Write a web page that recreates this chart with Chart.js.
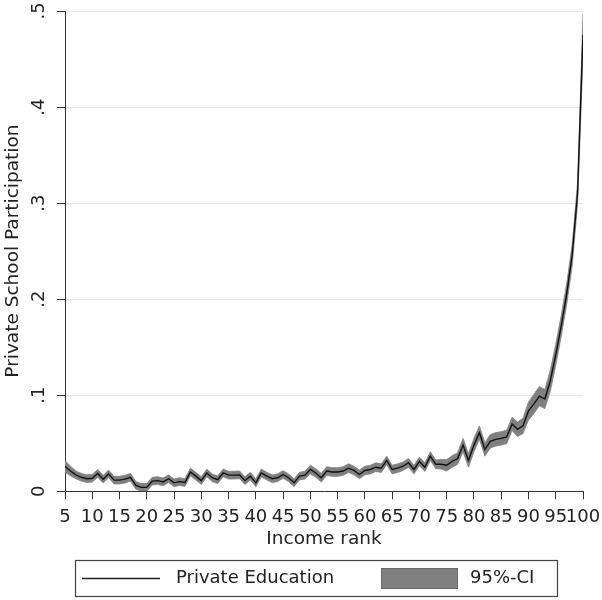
<!DOCTYPE html>
<html>
<head>
<meta charset="utf-8">
<script src="https://cdn.jsdelivr.net/npm/chart.js@4/dist/chart.umd.min.js"></script>
<style>
  html, body { margin: 0; padding: 0; background: #fff; overflow: hidden; }
  #wrap { width: 602px; height: 600px; }
</style>
</head>
<body>
<div id="wrap"><canvas id="chart"></canvas></div>
<script>
// income rank (percentile)
const ranks = [5, 6, 7, 8, 9, 10, 11, 12, 13, 14, 15, 16, 17, 18, 19, 20,
  21, 22, 23, 24, 25, 26, 27, 28, 29, 30, 31, 32, 33, 34, 35, 36, 37, 38, 39, 40,
  41, 42, 43, 44, 45, 46, 47, 48, 49, 50, 51, 52, 53, 54, 55, 56, 57, 58, 59, 60,
  61, 62, 63, 64, 65, 66, 67, 68, 69, 70, 71, 72, 73, 74, 75, 76, 77, 78, 79, 80,
  81, 82, 83, 84, 85, 86, 87, 88, 89, 90, 91, 92, 93, 94, 95, 96, 97, 98, 99, 100];

// private school participation (point estimate)
const share = [0.026, 0.021, 0.017, 0.0145, 0.013, 0.0135, 0.0185, 0.0125, 0.018, 0.0115, 0.0115, 0.0125, 0.0145, 0.006, 0.004, 0.004,
  0.0105, 0.011, 0.0097, 0.013, 0.0087, 0.010, 0.009, 0.020, 0.0157, 0.011, 0.019, 0.014, 0.012, 0.019, 0.0167, 0.0167, 0.017, 0.011, 0.0157, 0.0087,
  0.019, 0.0157, 0.013, 0.014, 0.0174, 0.014, 0.0087, 0.0157, 0.0167, 0.0226, 0.019, 0.014, 0.021, 0.020, 0.020, 0.021, 0.024, 0.0216, 0.0174, 0.0216,
  0.0226, 0.025, 0.024, 0.032, 0.0226, 0.024, 0.026, 0.0296, 0.0226, 0.031, 0.025, 0.0366, 0.028, 0.028, 0.027, 0.031, 0.034, 0.048, 0.032, 0.048,
  0.061, 0.0435, 0.052, 0.054, 0.055, 0.0565, 0.070, 0.0645, 0.068, 0.0836, 0.091, 0.099, 0.096, 0.115, 0.142, 0.172, 0.205, 0.245, 0.31, 0.475];

// 95% confidence interval
const ciLow = [0.020, 0.016, 0.013, 0.0105, 0.009, 0.0095, 0.0145, 0.0085, 0.014, 0.0075, 0.0075, 0.0085, 0.0105, 0.002, 0.000, 0.000,
  0.0065, 0.007, 0.0057, 0.009, 0.0047, 0.006, 0.005, 0.016, 0.0117, 0.007, 0.015, 0.010, 0.008, 0.015, 0.0127, 0.0127, 0.013, 0.007, 0.0117, 0.0047,
  0.015, 0.0117, 0.009, 0.010, 0.0134, 0.010, 0.0047, 0.0117, 0.0127, 0.018, 0.0145, 0.0095, 0.0165, 0.0155, 0.0155, 0.0165, 0.0195, 0.017, 0.013, 0.017,
  0.018, 0.0205, 0.0195, 0.0275, 0.018, 0.0195, 0.0215, 0.025, 0.018, 0.0265, 0.0205, 0.032, 0.0235, 0.023, 0.021, 0.025, 0.028, 0.041, 0.025, 0.041,
  0.054, 0.0365, 0.045, 0.047, 0.048, 0.0495, 0.063, 0.057, 0.060, 0.074, 0.081, 0.089, 0.086, 0.104, 0.131, 0.161, 0.194, 0.234, 0.299, 0.454];

const ciHigh = [0.032, 0.026, 0.021, 0.0185, 0.017, 0.0175, 0.0225, 0.0165, 0.022, 0.0155, 0.0155, 0.0165, 0.0185, 0.010, 0.008, 0.008,
  0.0145, 0.015, 0.0137, 0.017, 0.0127, 0.014, 0.013, 0.024, 0.0197, 0.015, 0.023, 0.018, 0.016, 0.023, 0.0207, 0.0207, 0.021, 0.015, 0.0197, 0.0127,
  0.023, 0.0197, 0.017, 0.018, 0.0214, 0.018, 0.0127, 0.0197, 0.0207, 0.027, 0.0235, 0.0185, 0.0255, 0.0245, 0.0245, 0.0255, 0.0285, 0.026, 0.022, 0.026,
  0.027, 0.0295, 0.0285, 0.0365, 0.027, 0.0285, 0.0305, 0.034, 0.027, 0.0355, 0.0295, 0.041, 0.0325, 0.033, 0.033, 0.037, 0.040, 0.055, 0.039, 0.055,
  0.068, 0.0505, 0.059, 0.061, 0.062, 0.0635, 0.077, 0.072, 0.076, 0.093, 0.101, 0.109, 0.106, 0.126, 0.153, 0.183, 0.216, 0.256, 0.321, 0.497];

const yTicks = [0, 0.1, 0.2, 0.3, 0.4, 0.5];

const FONT = "'DejaVu Sans', Verdana, sans-serif";
const TEXT = '#222';
const BAND = 'rgb(128,128,128)';

function pts(vals) {
  return ranks.map((r, i) => ({ x: r, y: vals[i] }));
}

// legend in a box under the axis title
const boxLegend = {
  id: 'boxLegend',
  afterDraw(chart) {
    const ctx = chart.ctx;
    const midY = 578.5;
    ctx.save();
    ctx.strokeStyle = '#444';
    ctx.lineWidth = 1.2;
    ctx.strokeRect(75.5, 560.5, 482, 36);

    ctx.strokeStyle = '#222';
    ctx.lineWidth = 1.5;
    ctx.beginPath();
    ctx.moveTo(82, midY);
    ctx.lineTo(160, midY);
    ctx.stroke();

    ctx.fillStyle = BAND;
    ctx.fillRect(381, 568, 77, 21);
    ctx.strokeStyle = '#6a6a6a';
    ctx.lineWidth = 1;
    ctx.strokeRect(381.5, 568.5, 76, 20);

    ctx.fillStyle = TEXT;
    ctx.font = '18px ' + FONT;
    ctx.textBaseline = 'middle';
    ctx.textAlign = 'left';
    ctx.fillText(chart.data.datasets[0].label, 176, midY);
    ctx.fillText(chart.data.datasets[1].label, 470, midY);
    ctx.restore();
  }
};

new Chart(document.getElementById('chart'), {
  type: 'line',
  data: {
    datasets: [
      {
        label: 'Private Education',
        data: pts(share),
        borderColor: '#111',
        borderWidth: 1.4,
        pointRadius: 0,
        fill: false
      },
      {
        label: '95%-CI',
        data: pts(ciHigh),
        borderColor: BAND,
        borderWidth: 0.8,
        backgroundColor: BAND,
        pointRadius: 0,
        fill: '+1'
      },
      {
        label: 'ci-low',
        data: pts(ciLow),
        borderColor: BAND,
        borderWidth: 0.8,
        pointRadius: 0,
        fill: false
      }
    ]
  },
  options: {
    responsive: true,
    maintainAspectRatio: false,
    animation: false,
    layout: { padding: { top: 11, right: 19, bottom: 46, left: 0 } },
    scales: {
      x: {
        type: 'linear',
        min: 5,
        max: 100,
        afterFit(scale) {
          scale.height -= 7;
          scale.paddingRight = 0;
        },
        grid: { drawOnChartArea: false, tickLength: 8, tickColor: '#333' },
        border: { color: '#333', width: 1 },
        ticks: {
          stepSize: 5,
          autoSkip: false,
          maxRotation: 0,
          padding: 7,
          color: TEXT,
          font: { family: FONT, size: 18 }
        },
        title: {
          display: true,
          text: 'Income rank',
          color: TEXT,
          font: { family: FONT, size: 18.5 },
          padding: { top: 0, bottom: 4 }
        }
      },
      y: {
        min: 0,
        max: 0.5,
        afterBuildTicks(scale) {
          scale.ticks = yTicks.map(v => ({ value: v }));
        },
        afterFit(scale) {
          scale.width = 65;
          scale.paddingTop = 0;
          scale.paddingBottom = 0;
        },
        grid: {
          color: ctx => (ctx.tick && ctx.tick.value === 0 ? 'rgba(0,0,0,0)' : '#e6e6e6'),
          tickLength: 8,
          tickColor: '#333'
        },
        border: { color: '#333', width: 1 },
        ticks: {
          minRotation: 90,
          maxRotation: 90,
          crossAlign: 'center',
          padding: 9,
          color: TEXT,
          font: { family: FONT, size: 18 },
          callback: v => (v === 0 ? '0' : String(Math.round(v * 10) / 10).replace(/^0/, ''))
        },
        title: {
          display: true,
          text: 'Private School Participation',
          color: TEXT,
          font: { family: FONT, size: 18.5 },
          padding: { top: 2, bottom: 2 }
        }
      }
    },
    plugins: {
      legend: { display: false },
      tooltip: { enabled: false }
    }
  },
  plugins: [boxLegend]
});
</script>
</body>
</html>
